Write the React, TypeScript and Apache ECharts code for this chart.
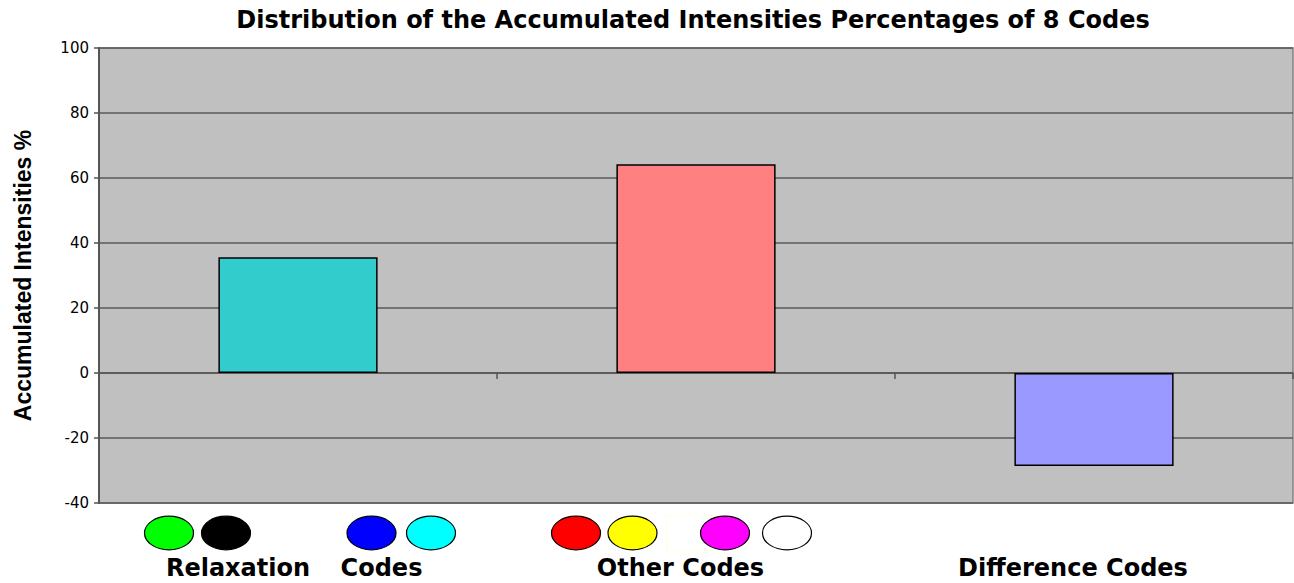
import React, { useEffect, useRef } from "react";
import * as echarts from "echarts";

const categories = ["Relaxation Codes", "Other Codes", "Difference Codes"];
const values = [35.6, 64.2, -28.6];
const barColors = ["#33CCCC", "#FF8080", "#9999FF"];
const yTicks = { min: -40, max: 100, interval: 20 };
const titleText = "Distribution of the Accumulated Intensities Percentages of 8 Codes";
const yAxisName = "Accumulated Intensities %";
const codeDots = [
  { x: 169, color: "#00FF00" },
  { x: 226, color: "#000000" },
  { x: 371.5, color: "#0000FF" },
  { x: 431, color: "#00FFFF" },
  { x: 576, color: "#FF0000" },
  { x: 632.5, color: "#FFFF00" },
  { x: 725, color: "#FF00FF" },
  { x: 787, color: "#FFFFFF" },
];
const bottomLabels = [
  { text: "Relaxation", x: 238 },
  { text: "Codes", x: 381.5 },
  { text: "Other Codes", x: 680.5 },
  { text: "Difference Codes", x: 1073 },
];

export default function App() {
  const ref = useRef<HTMLDivElement>(null);
  useEffect(() => {
    if (!ref.current) return;
    const chart = echarts.init(ref.current, null, { renderer: "svg" });
    const graphic: any[] = [
      {
        type: "rect",
        shape: { x: 666.5, y: 515.5, width: 48, height: 35 },
        style: { fill: "#FFFFFF", stroke: "#FFFFD8", lineWidth: 1 },
        z: 10,
      },
      ...codeDots.map((d) => ({
        type: "ellipse",
        shape: { cx: d.x, cy: 533, rx: 24.5, ry: 16.8 },
        style: { fill: d.color, stroke: "#000000", lineWidth: 1.2 },
        z: 11,
      })),
      ...bottomLabels.map((l) => ({
        type: "text",
        x: l.x,
        y: 568,
        style: {
          text: l.text,
          fill: "#000000",
          font: "bold 24px 'DejaVu Sans'",
          align: "center",
          verticalAlign: "middle",
        },
        z: 12,
      })),
    ];
    chart.setOption({
      animation: false,
      backgroundColor: "#FFFFFF",
      title: {
        text: titleText,
        left: 688,
        textAlign: "center",
        top: 3,
        textStyle: {
          fontFamily: "DejaVu Sans",
          fontWeight: "bold",
          fontSize: 24,
          color: "#000000",
        },
      },
      grid: {
        left: 99,
        right: 1,
        top: 48,
        bottom: 80,
        show: true,
        backgroundColor: "#C0C0C0",
        borderColor: "#808080",
        borderWidth: 1.5,
        containLabel: false,
      },
      xAxis: {
        type: "category",
        data: categories,
        axisLine: { onZero: true, lineStyle: { color: "#555555", width: 1.5 } },
        axisTick: { show: true, length: 6, lineStyle: { color: "#555555", width: 1.5 } },
        axisLabel: { show: false },
        splitLine: { show: false },
      },
      yAxis: {
        type: "value",
        min: yTicks.min,
        max: yTicks.max,
        interval: yTicks.interval,
        name: yAxisName,
        nameLocation: "middle",
        nameGap: 65,
        nameTextStyle: {
          fontFamily: "'Liberation Sans', Arial, sans-serif",
          fontWeight: "bold",
          fontSize: 23,
          color: "#000000",
        },
        axisLine: { show: true, lineStyle: { color: "#555555", width: 2 } },
        axisTick: { show: true, length: 5, lineStyle: { color: "#555555", width: 1.5 } },
        axisLabel: {
          fontFamily: "DejaVu Sans",
          fontSize: 15,
          color: "#000000",
          margin: 10,
        },
        splitLine: { show: true, lineStyle: { color: "#5A5A5A", width: 1.5 } },
      },
      series: [
        {
          type: "bar",
          data: values.map((v, i) => ({
            value: v,
            itemStyle: { color: barColors[i] },
          })),
          barWidth: "40%",
          itemStyle: { borderColor: "#000000", borderWidth: 1.5 },
        },
      ],
      graphic,
    });
    return () => chart.dispose();
  }, []);
  return <div ref={ref} style={{ width: 1294, height: 583, position: "absolute", left: 0, top: 0 }} />;
}
